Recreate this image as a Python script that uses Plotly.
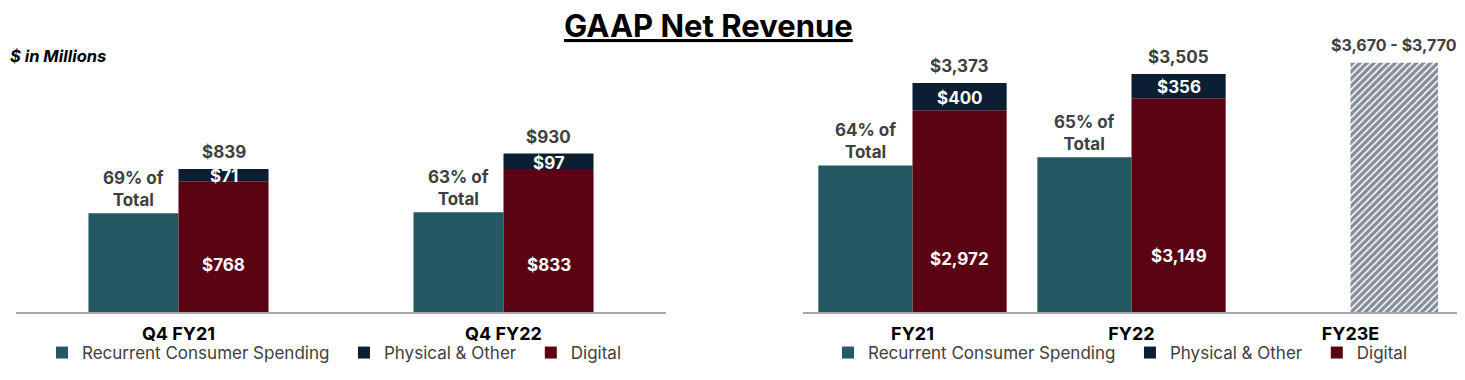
import plotly.graph_objects as go

# ---- data ----
q_cats = ["Q4 FY21", "Q4 FY22"]
q_total = [839, 930]
q_digital = [768, 833]
q_physical = [71, 97]
q_rcs_pct = [69, 63]

fy_cats = ["FY21", "FY22", "FY23E"]
fy_total = [3373, 3505]
fy_digital = [2972, 3149]
fy_physical = [400, 356]
fy_rcs_pct = [64, 65]
fy23_guide = 3670
fy23_label = "$3,670 - $3,770"

legend_names = ["Recurrent Consumer Spending", "Physical & Other", "Digital"]

TEAL = "#245963"
RED = "#5A0413"
NAVY = "#0C1E31"
GRAY = "#404040"
FONT = "Inter"

# page body has an 8px margin: lay out in screen pixels and convert
W, H, OFF_PX = 1457, 372, 8
def px(x):
    return (x - OFF_PX) / W
def py(y):
    return 1 - (y - OFF_PX) / H

fig = go.Figure()
PAD = "&nbsp;&nbsp;"

def add_panel(total, digital, physical, pct, xa, ya, legend, bw, dshift):
    off = bw / 2
    n = len(total)
    xs = list(range(n))
    rcs = [t * p / 100 for t, p in zip(total, pct)]
    fig.add_trace(go.Bar(x=[x - off for x in xs], y=rcs, width=bw, marker_color=TEAL,
                         marker_line_width=0, name=legend_names[0] + PAD,
                         xaxis=xa, yaxis=ya, legend=legend, legendrank=1))
    fig.add_trace(go.Bar(x=[x + off for x in xs], y=digital, width=bw, marker_color=RED,
                         marker_line_width=0, name=legend_names[2],
                         xaxis=xa, yaxis=ya, legend=legend, legendrank=3))
    fig.add_trace(go.Bar(x=[x + off for x in xs], y=physical, base=digital, width=bw,
                         marker_color=NAVY, marker_line_width=0, name=legend_names[1] + PAD,
                         xaxis=xa, yaxis=ya, legend=legend, legendrank=2))
    for i in range(n):
        fig.add_annotation(x=i + off, y=total[i], xref=xa, yref=ya, text=f"${total[i]:,}",
                           showarrow=False, yanchor="bottom", yshift=5,
                           font=dict(family=FONT, size=17, color=GRAY, weight="bold"))
        fig.add_annotation(x=i + off, y=digital[i] + physical[i] / 2, xref=xa, yref=ya,
                           text=f"${physical[i]:,}", showarrow=False, yshift=-1,
                           font=dict(family=FONT, size=17, color="white", weight="bold"))
        fig.add_annotation(x=i + off, y=0, xref=xa, yref=ya, text=f"${digital[i]:,}",
                           showarrow=False, yanchor="middle", yshift=dshift[i],
                           font=dict(family=FONT, size=17, color="white", weight="bold"))
        fig.add_annotation(x=i - off, y=rcs[i], xref=xa, yref=ya,
                           text=f"{pct[i]}% of<br>Total", showarrow=False,
                           yanchor="bottom", yshift=1,
                           font=dict(family=FONT, size=17, color=GRAY, weight="bold"))

add_panel(q_total, q_digital, q_physical, q_rcs_pct, "x", "y", "legend", 0.277, [47, 47])
add_panel(fy_total, fy_digital, fy_physical, fy_rcs_pct, "x2", "y2", "legend2", 0.43, [53, 56])

fig.add_trace(go.Bar(x=[2 + 0.2], y=[fy23_guide], width=0.40, xaxis="x2", yaxis="y2",
                     showlegend=False,
                     marker=dict(color="white", line=dict(width=0),
                                 pattern=dict(shape="/", fgcolor=NAVY, bgcolor="white",
                                              size=5, solidity=0.7))))
fig.add_annotation(x=2 + 0.2, y=fy23_guide, xref="x2", yref="y2", text=fy23_label,
                   showarrow=False, yanchor="bottom", yshift=6,
                   font=dict(family=FONT, size=16, color=GRAY, weight="bold"))

axis_common = dict(showgrid=False, zeroline=False, showline=True, linecolor="#A6A6A6",
                   linewidth=2, ticks="", ticklabelstandoff=4,
                   tickfont=dict(family=FONT, size=18, color="black", weight="bold"))
leg_common = dict(orientation="h", yanchor="middle", xanchor="left",
                  font=dict(family=FONT, size=17, color=GRAY),
                  itemwidth=30, bgcolor="rgba(0,0,0,0)", traceorder="normal")
y_dom = [py(312), py(40)]
fig.update_layout(
    width=W, height=H, margin=dict(l=0, r=0, t=0, b=0, autoexpand=False),
    paper_bgcolor="white", plot_bgcolor="white", barmode="overlay",
    xaxis=dict(domain=[px(16), px(666)], range=[-0.5, 1.5], tickvals=[0, 1],
               ticktext=q_cats, **axis_common),
    xaxis2=dict(domain=[px(803), px(1460)], range=[-0.5, 2.5], tickvals=[0, 1, 2],
                ticktext=fy_cats, anchor="y2", **axis_common),
    yaxis=dict(domain=y_dom, range=[0, 272 / 0.1704], visible=False),
    yaxis2=dict(domain=y_dom, range=[0, 272 / 0.0679], visible=False, anchor="x2"),
    legend=dict(x=px(42), y=py(353), **leg_common),
    legend2=dict(x=px(828), y=py(353), **leg_common),
)

fig.add_annotation(xref="paper", yref="paper", x=px(708), y=py(26), yanchor="middle",
                   text="<u>GAAP Net Revenue</u>", showarrow=False,
                   font=dict(family=FONT, size=31, color="black", weight="bold"))
fig.add_annotation(xref="paper", yref="paper", x=px(8), y=py(56), yanchor="middle",
                   xanchor="left", text="<i>$ in Millions</i>", showarrow=False,
                   font=dict(family=FONT, size=16.5, color="black", weight="bold"))

fig.write_html("out.html")
